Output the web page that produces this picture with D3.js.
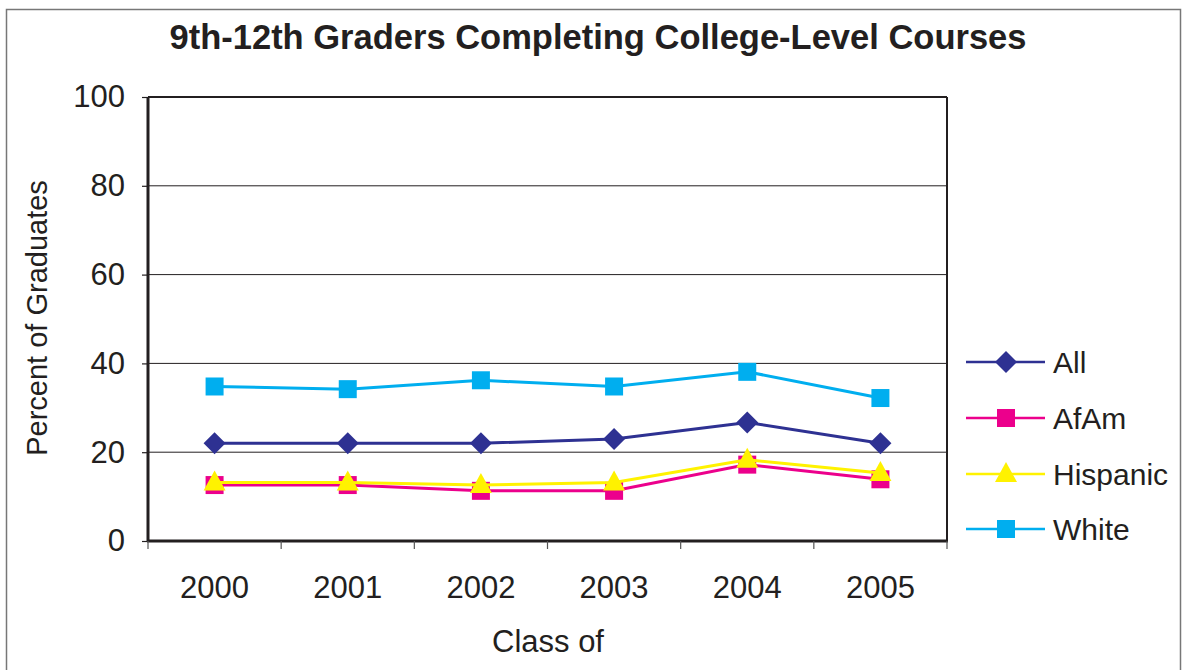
<!DOCTYPE html>
<html>
<head>
<meta charset="utf-8">
<script src="https://cdn.jsdelivr.net/npm/d3@7"></script>
<style>
  body { margin: 0; background: #fff; }
  text { font-family: "Liberation Sans", Arial, sans-serif; fill: #231f20; }
</style>
</head>
<body>
<script>
// values
var years = ["2000", "2001", "2002", "2003", "2004", "2005"];
var allVals = [22.0, 22.0, 22.0, 23.0, 26.7, 22.0];
var afamVals = [12.6, 12.6, 11.3, 11.3, 17.2, 13.9];
var hispVals = [13.2, 13.2, 12.6, 13.2, 18.3, 15.3];
var whiteVals = [34.8, 34.2, 36.2, 34.8, 38.1, 32.2];
var yTicks = [0, 20, 40, 60, 80, 100];

var series = [
    {name: "All", values: allVals, color: "#2e3192", shape: "diamond"},
    {name: "AfAm", values: afamVals, color: "#ec008c", shape: "square"},
    {name: "Hispanic", values: hispVals, color: "#fff200", shape: "triangle"},
    {name: "White", values: whiteVals, color: "#00aeef", shape: "square"}
];

var width = 1187, height = 670;
var plotL = 148, plotR = 947, plotT = 97, plotB = 541;

var svg = d3.select("body").append("svg")
    .attr("width", width)
    .attr("height", height);

// outer frame
svg.append("rect")
    .attr("x", 6.5).attr("y", 9.5)
    .attr("width", 1174).attr("height", 670)
    .style("fill", "none").style("stroke", "#777").style("stroke-width", 1.5);

var x = d3.scaleBand().domain(years).range([plotL, plotR]);
var y = d3.scaleLinear().domain([0, 100]).range([plotB, plotT]);

// grid lines
svg.append("g").selectAll("line")
    .data(yTicks.filter(d => d > 0 && d < 100))
    .enter().append("line")
    .attr("x1", plotL).attr("x2", plotR)
    .attr("y1", d => y(d)).attr("y2", d => y(d))
    .style("stroke", "#231f20").style("stroke-width", 1);

// plot box
svg.append("line").attr("x1", plotL).attr("x2", plotR).attr("y1", plotT).attr("y2", plotT)
    .style("stroke", "#231f20").style("stroke-width", 2);
svg.append("line").attr("x1", plotR).attr("x2", plotR).attr("y1", plotT).attr("y2", plotB)
    .style("stroke", "#231f20").style("stroke-width", 2);

var yAxis = svg.append("g")
    .attr("transform", "translate(" + plotL + ",0)")
    .call(d3.axisLeft(y).tickValues(yTicks).tickSize(6).tickPadding(17));
yAxis.select(".domain").style("stroke", "#231f20").style("stroke-width", 3).attr("d", "M0," + plotT + "V" + plotB);
yAxis.selectAll(".tick line").style("stroke", "#231f20").style("stroke-width", 1.2);
yAxis.selectAll("text").style("font-size", "31px").style("fill", "#231f20")
    .style("font-family", "Liberation Sans, Arial, sans-serif");

// x axis: ticks between categories
var xg = svg.append("g");
xg.append("line").attr("x1", plotL - 1).attr("x2", plotR + 1).attr("y1", plotB).attr("y2", plotB)
    .style("stroke", "#231f20").style("stroke-width", 3);
var bounds = years.map(d => x(d)).concat([plotR]);
xg.selectAll(".xt").data(bounds).enter().append("line")
    .attr("x1", d => d).attr("x2", d => d)
    .attr("y1", plotB).attr("y2", plotB + 8)
    .style("stroke", "#555").style("stroke-width", 1.2);
xg.selectAll(".xl").data(years).enter().append("text")
    .attr("x", d => x(d) + x.bandwidth() / 2)
    .attr("y", 598)
    .attr("text-anchor", "middle")
    .style("font-size", "31px")
    .text(d => d);

function markerPath(shape) {
    if (shape === "diamond") return "M0,-11L11,0L0,11L-11,0Z";
    if (shape === "triangle") return "M0,-12L11,8L-11,8Z";
    return "M-9,-9H9V9H-9Z";
}

var line = d3.line()
    .x((d, i) => x(years[i]) + x.bandwidth() / 2)
    .y(d => y(d));

series.forEach(function(s) {
    svg.append("path")
        .attr("d", line(s.values))
        .style("fill", "none").style("stroke", s.color).style("stroke-width", 3);
    svg.append("g").selectAll("path")
        .data(s.values).enter().append("path")
        .attr("transform", (d, i) => "translate(" + (x(years[i]) + x.bandwidth() / 2) + "," + y(d) + ")")
        .attr("d", markerPath(s.shape))
        .style("fill", s.color);
});

// legend
var legY = [362, 418, 474, 529];
var leg = svg.append("g").selectAll("g").data(series).enter().append("g")
    .attr("transform", (d, i) => "translate(0," + legY[i] + ")");
leg.append("line").attr("x1", 966).attr("x2", 1045).attr("y1", 0).attr("y2", 0)
    .style("stroke", d => d.color).style("stroke-width", 2.5);
leg.append("path").attr("transform", "translate(1006,0)")
    .attr("d", d => markerPath(d.shape)).style("fill", d => d.color);
leg.append("text").attr("x", 1053).attr("y", 11)
    .style("font-size", "30px").text(d => d.name);

// titles
svg.append("text").attr("x", 598).attr("y", 49).attr("text-anchor", "middle")
    .style("font-size", "34.5px").style("font-weight", "bold")
    .text("9th-12th Graders Completing College-Level Courses");
svg.append("text").attr("x", 548).attr("y", 652).attr("text-anchor", "middle")
    .style("font-size", "31px").text("Class of");
svg.append("text").attr("transform", "translate(47,318) rotate(-90)")
    .attr("text-anchor", "middle")
    .style("font-size", "29px").text("Percent of Graduates");
</script>
</body>
</html>
